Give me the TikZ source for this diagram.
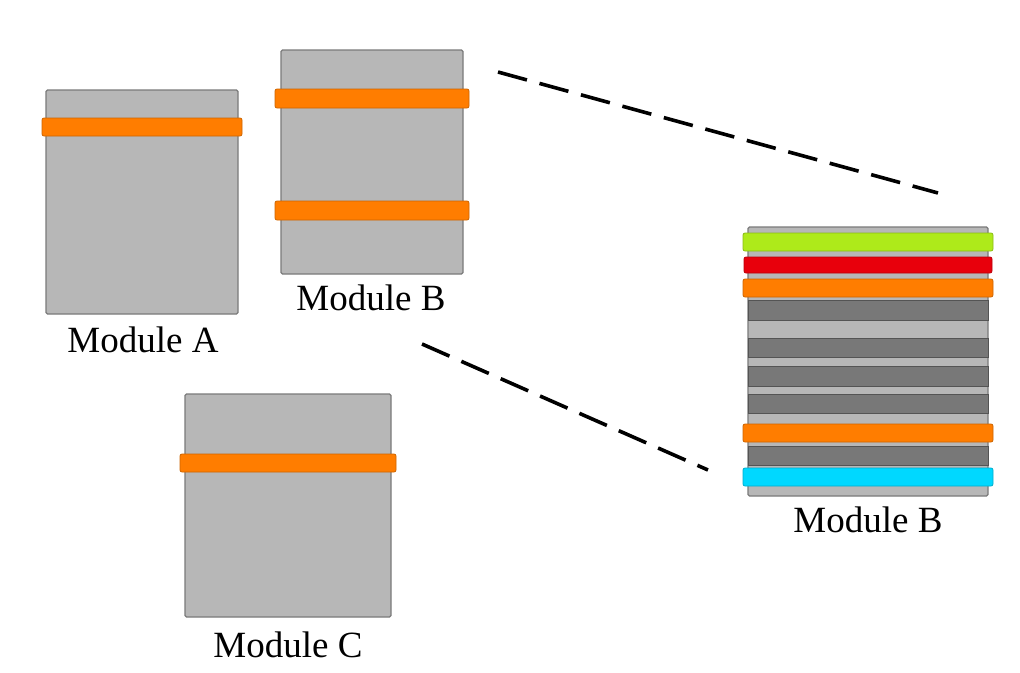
\documentclass[tikz,border=0pt]{standalone}
\usepackage{fontspec}
\setmainfont{Liberation Serif}
\definecolor{boxgray}{HTML}{B7B7B7}
\definecolor{boxline}{HTML}{7A7A7A}
\definecolor{bandorange}{HTML}{FF7D00}
\definecolor{bandgreen}{HTML}{AEEA1A}
\definecolor{bandred}{HTML}{E8000C}
\definecolor{bandcyan}{HTML}{00D8FF}
\definecolor{darkband}{HTML}{787878}
\begin{document}
\begin{tikzpicture}[x=1pt,y=-1pt,
  modbox/.style={draw=boxline, fill=boxgray, line width=1.2pt, rounded corners=1.5pt},
  band/.style={draw=#1!80!black, fill=#1, line width=0.8pt, rounded corners=2pt},
  darkstrip/.style={draw=darkband!70!black, fill=darkband, line width=1pt},
  lbl/.style={font=\fontsize{37}{40}\selectfont, inner sep=0pt, anchor=base},
  conn/.style={line width=3.6pt, dash pattern=on 30pt off 13pt}]
\useasboundingbox (0,0) rectangle (1020,672);
% Module A
\draw[modbox] (46,90) rectangle (238,314);
\draw[band=bandorange] (42,118) rectangle (242,136);
\node[lbl] (la) at (143,352) {Module A};
% Module B
\draw[modbox] (281,50) rectangle (463,274);
\draw[band=bandorange] (275,89) rectangle (469,108);
\draw[band=bandorange] (275,201) rectangle (469,220);
\node[lbl] (lb) at (371,310) {Module B};
% Module C
\draw[modbox] (185,394) rectangle (391,617);
\draw[band=bandorange] (180,454) rectangle (396,472);
\node[lbl] (lc) at (288,657) {Module C};
% Module B detailed
\draw[modbox] (748,227) rectangle (988,496);
\draw[darkstrip] (748,300) rectangle (988,320);
\draw[darkstrip] (748,338) rectangle (988,357);
\draw[darkstrip] (748,366) rectangle (988,386);
\draw[darkstrip] (748,394) rectangle (988,413);
\draw[darkstrip] (748,446) rectangle (988,465);
\draw[band=bandgreen] (743,233) rectangle (993,251);
\draw[band=bandred] (744,257) rectangle (992,273);
\draw[band=bandorange] (743,279) rectangle (993,297);
\draw[band=bandorange] (743,424) rectangle (993,442);
\draw[band=bandcyan] (743,468) rectangle (993,486);
\node[lbl] (lbd) at (868,532) {Module B};
% dashed connectors
\coordinate (c1a) at (498,72);
\coordinate (c1b) at (938,193);
\coordinate (c2a) at (422,344);
\coordinate (c2b) at (708,470);
\draw[conn] (c1a) -- (c1b);
\draw[conn] (c2a) -- (c2b);
\end{tikzpicture}
\end{document}
